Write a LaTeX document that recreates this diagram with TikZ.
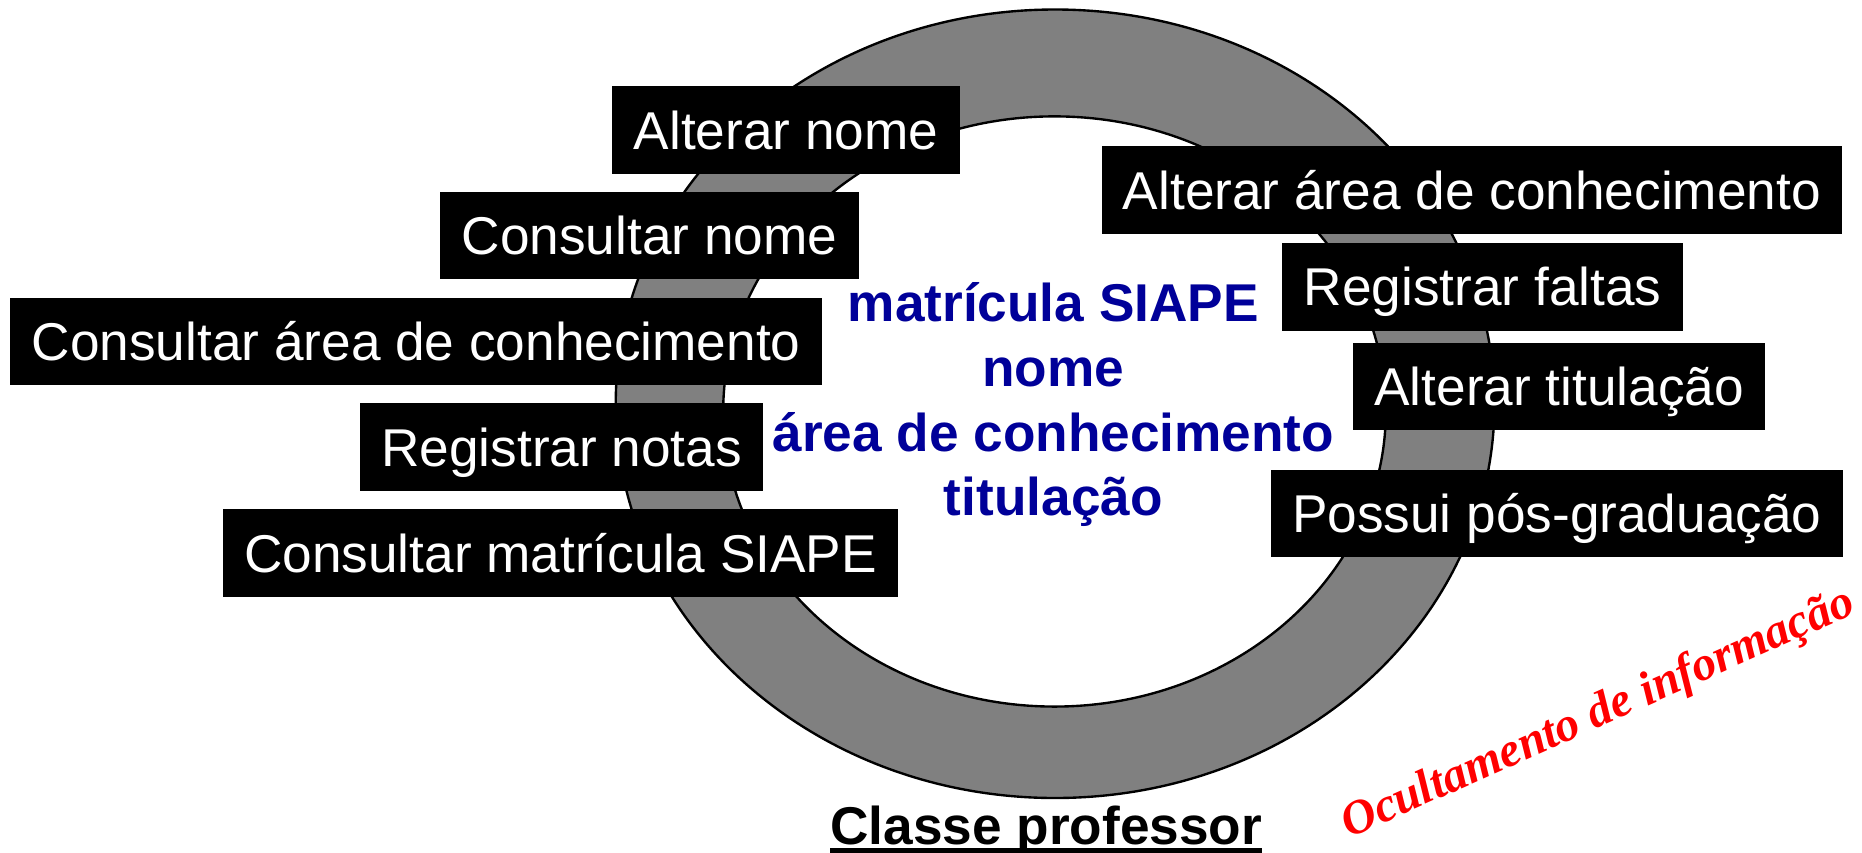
\documentclass[tikz,border=0pt]{standalone}
\usepackage{fontspec}
\setmainfont{Liberation Sans}
\newfontfamily\serifit{Liberation Serif}
\definecolor{anel}{RGB}{128,128,128}
\definecolor{azul}{RGB}{0,0,153}
\begin{document}
\begin{tikzpicture}[x=1pt,y=-1pt,
    metodo/.style={fill=black,text=white,inner xsep=18pt,inner ysep=0pt,
      minimum height=74pt,text height=32.1pt,text depth=0pt,
      font=\fontsize{44.8}{54}\selectfont},
    atributo/.style={anchor=base,inner sep=0pt,text=azul,
      font=\fontsize{44.8}{54}\selectfont\bfseries}]
  \useasboundingbox (0,0) rectangle (1568,718.3);
  % o anel da classe
  \draw[fill=anel,line width=2pt,even odd rule]
    (888.5,340) ellipse [x radius=370pt,y radius=332pt]
    (888,346.5) ellipse [x radius=279pt,y radius=248.5pt];
  % metodos
  \node[metodo] (alterarNome) at (662,109.5) {Alterar nome};
  \node[metodo] (consultarNome) at (547,198.3) {Consultar nome};
  \node[metodo] (consultarArea) at (350.5,287.6) {Consultar área de conhecimento};
  \node[metodo] (registrarNotas) at (473,376.6) {Registrar notas};
  \node[metodo] (consultarSiape) at (472,466) {Consultar matrícula SIAPE};
  \node[metodo] (alterarArea) at (1239.5,160.1) {Alterar área de conhecimento};
  \node[metodo] (registrarFaltas) at (1248.5,241.4) {Registrar faltas};
  \node[metodo] (alterarTitulacao) at (1313,325.5) {Alterar titulação};
  \node[metodo] (possuiPos) at (1311,432.4) {Possui pós-graduação};
  % atributos
  \node[atributo] (matricula) at (887,270.9) {matrícula SIAPE};
  \node[atributo] (nome) at (887,325.6) {nome};
  \node[atributo] (area) at (887,380) {área de conhecimento};
  \node[atributo] (titulacao) at (887,434) {titulação};
  % titulo
  \node[anchor=base,inner sep=0pt,font=\fontsize{44.8}{54}\selectfont\bfseries]
    (classe) at (881,711) {Classe professor};
  \draw[line width=4pt] ([yshift=-5pt]classe.base west) -- ([yshift=-5pt]classe.base east);
  \node[rotate=24,anchor=base,inner sep=0pt,text=red,
    font=\serifit\bfseries\itshape\fontsize{40.5}{48}\selectfont]
    (ocultamento) at (1350,611) {Ocultamento de informação};
\end{tikzpicture}
\end{document}
